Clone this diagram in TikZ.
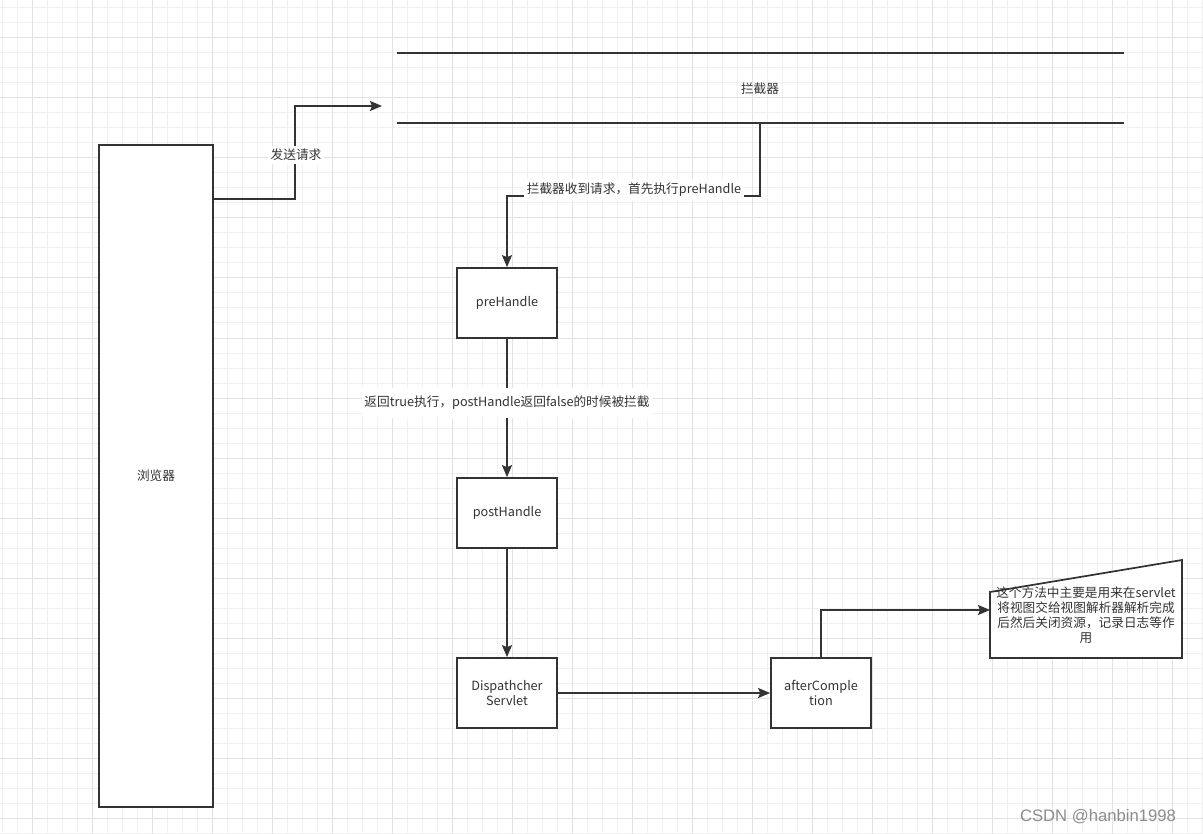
\documentclass[tikz,border=0pt]{standalone}
\usepackage{fontspec}
\setmainfont{Noto Sans CJK SC}
\newfontfamily\wmfont{Liberation Sans}
\usetikzlibrary{arrows.meta}
\definecolor{ink}{HTML}{333333}
\definecolor{gridminor}{HTML}{F0F0F0}
\definecolor{gridmajor}{HTML}{E2E2E2}
\begin{document}
\begin{tikzpicture}[x=0.75pt, y=-0.75pt,
    every node/.style={font=\fontsize{9.5pt}{11.3pt}\selectfont, text=ink},
    box/.style={draw=ink, line width=1.3pt, fill=white, minimum width=75pt, minimum height=52.5pt, align=center, inner sep=1pt},
    conn/.style={draw=ink, line width=1.3pt, -{Stealth[length=9pt, width=7.5pt, inset=1.5pt]}},
    lbl/.style={fill=white, inner sep=2pt}]
    \useasboundingbox (0,0) rectangle (1203,834);

    % Grid
    \foreach \x in {2,17,...,1203} \draw[gridminor, line width=0.75pt] (\x,0) -- (\x,834);
    \foreach \y in {8,23,...,834} \draw[gridminor, line width=0.75pt] (0,\y) -- (1203,\y);
    \foreach \x in {32,92,...,1203} \draw[gridmajor, line width=0.75pt] (\x,0) -- (\x,834);
    \foreach \y in {38,98,...,834} \draw[gridmajor, line width=0.75pt] (0,\y) -- (1203,\y);

    % Browser
    \node[box, minimum width=85.5pt, minimum height=496.5pt] (browser) at (156,476) {浏览器};
    \coordinate (browserout) at (213,199);

    % Interceptor
    \coordinate (icpttl) at (397,53);
    \coordinate (icpttr) at (1124,53);
    \coordinate (icptbl) at (397,123);
    \coordinate (icptbr) at (1124,123);
    \draw[ink, line width=1.3pt] (icpttl) -- (icpttr);
    \draw[ink, line width=1.3pt] (icptbl) -- (icptbr);
    \node (icpt) at (760,89) {拦截器};
    \coordinate (icptin) at (382,106);
    \coordinate (icptout) at (760,123);

    % Send request
    \draw[conn] (browserout) -- ++(82,0) |- (icptin);
    \node[lbl] (sendlbl) at (296,155) {发送请求};

    % Handlers
    \node[box] (pre) at (507,303) {preHandle};
    \node[box] (post) at (507,513) {postHandle};
    \node[box] (disp) at (507,693) {Dispathcher\\Servlet};
    \node[box] (after) at (821,693) {afterComple\\tion};

    % Interceptor to preHandle
    \draw[conn] (icptout) -- ++(0,73) -| (pre.north);
    \node[lbl, inner ysep=3pt] (prelbl) at (634,190) {拦截器收到请求，首先执行preHandle};

    % preHandle to postHandle
    \draw[conn] (pre.south) -- (post.north);
    \node[lbl, inner ysep=6pt] (postlbl) at (507,403) {返回true执行，postHandle返回false的时候被拦截};

    % postHandle to DispatcherServlet to afterCompletion
    \draw[conn] (post.south) -- (disp.north);
    \draw[conn] (disp.east) -- (after.west);

    % Note
    \coordinate (notetl) at (990,592);
    \coordinate (notetr) at (1182,560);
    \coordinate (notebr) at (1182,658);
    \coordinate (notebl) at (990,658);
    \draw[ink, line width=1.3pt, fill=white] (notetl) -- (notetr) -- (notebr) -- (notebl) -- cycle;
    \coordinate (notein) at (990,610);
    \node[align=center, inner sep=0pt] (notetext) at (1086,615)
        {这个方法中主要是用来在servlet\\将视图交给视图解析器解析完成\\后然后关闭资源，记录日志等作\\用};
    \draw[conn] (after.north) |- (notein);

    % Watermark
    \node[font=\wmfont\fontsize{12.5pt}{14pt}\selectfont, text=black!45] (mark) at (1098,817) {CSDN @hanbin1998};
\end{tikzpicture}
\end{document}
